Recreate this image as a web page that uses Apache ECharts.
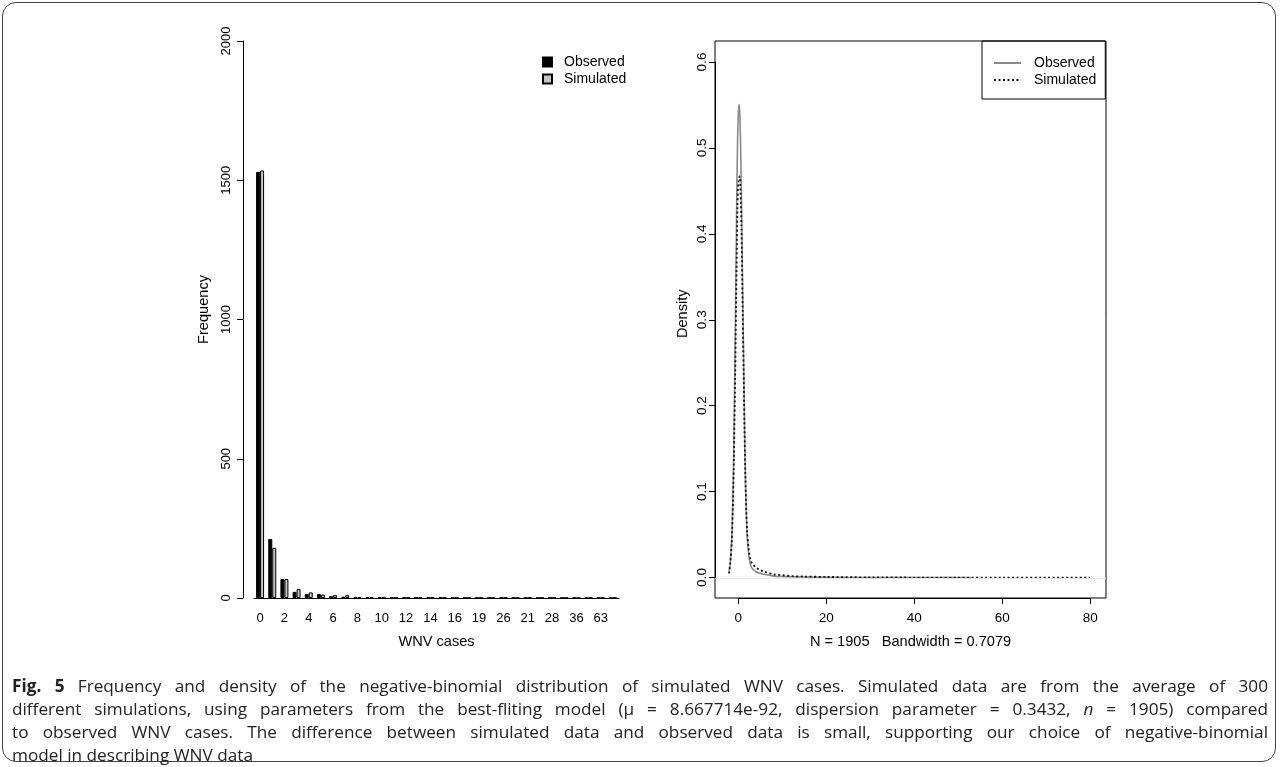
<!DOCTYPE html>
<html>
<head>
<meta charset="utf-8">
<script src="https://cdn.jsdelivr.net/npm/echarts@6/dist/echarts.min.js"></script>
<style>
  body { margin: 0; background: #fff; }
  #frame {
    position: absolute; left: 2px; top: 2px; width: 1274px; height: 760px;
    border: 1.5px solid #444; border-radius: 14px; box-sizing: border-box;
  }
  #chart { position: absolute; left: 0; top: 0; width: 1281px; height: 767px; }
  #caption {
    position: absolute; left: 12px; top: 674px; width: 1256px;
    font-family: "Open Sans", "Noto Sans", sans-serif; font-size: 17.2px; color: #222;
    line-height: 23px;
  }
  #caption .j { text-align: justify; text-align-last: justify; }
  #caption b { font-weight: 700; }
</style>
</head>
<body>
<div id="chart"></div>
<div id="frame"></div>
<div id="caption">
  <div class="j"><b>Fig. 5</b> Frequency and density of the negative-binomial distribution of simulated WNV cases. Simulated data are from the average of 300</div>
  <div class="j">different simulations, using parameters from the best-fliting model (μ = 8.667714e-92, dispersion parameter = 0.3432, <i>n</i> = 1905) compared</div>
  <div class="j">to observed WNV cases. The difference between simulated data and observed data is small, supporting our choice of negative-binomial</div>
  <div>model in describing WNV data</div>
</div>
<script>
  // bar chart: frequency of WNV cases
  var caseCategories = ['0', '1', '2', '3', '4', '5', '6', '7', '8', '9', '10', '11', '12', '13', '14', '15', '16',
    '17', '19', '20', '26', '18', '21', '24', '28', '30', '36', '38', '63', '47']
  var observedFreq = [1530, 212, 68, 22, 14, 14, 7, 5, 4, 3, 3, 2, 3, 2, 2, 2, 2, 1, 1, 1, 3, 1, 1, 1, 1, 1, 1, 1, 1, 0]
  var simulatedFreq = [1535, 180, 68, 32, 20, 12, 10, 10, 3, 3, 4, 2, 2, 2, 2, 1, 1, 1, 1, 1, 1, 1, 1, 1, 1, 1, 0, 1, 1, 1]
  var freqTicks = [0, 500, 1000, 1500, 2000]

  // density curves (x, y)
  var obsDensityX = [-2.1, -1.8, -1.5, -1.2, -1.0, -0.7, -0.4, -0.2, 0.0, 0.2, 0.4, 0.6, 0.8, 1.0, 1.3, 1.6, 2.0, 2.5, 3.0, 4.0, 5.0, 6.0, 7.0, 8.0, 10, 12, 15, 20, 25, 30, 40, 50, 53]
  var obsDensityY = [0.006, 0.02, 0.045, 0.10, 0.16, 0.28, 0.42, 0.50, 0.54, 0.551, 0.53, 0.48, 0.41, 0.33, 0.22, 0.12, 0.05, 0.022, 0.012, 0.007, 0.005, 0.004, 0.003, 0.002, 0.0015, 0.0012, 0.001, 0.0006, 0.0004, 0.0003, 0.0002, 0.0002, 0.0001]
  var simDensityX = [-2.1, -1.8, -1.5, -1.2, -1.0, -0.7, -0.4, -0.2, 0.0, 0.3, 0.5, 0.7, 1.0, 1.3, 1.6, 2.0, 2.5, 3.0, 4.0, 5.0, 6.0, 8.0, 10, 12, 15, 20, 30, 40, 50, 60, 70, 80]
  var simDensityY = [0.005, 0.018, 0.04, 0.09, 0.14, 0.24, 0.36, 0.43, 0.46, 0.467, 0.45, 0.41, 0.31, 0.21, 0.12, 0.055, 0.028, 0.018, 0.012, 0.009, 0.007, 0.004, 0.003, 0.002, 0.0015, 0.001, 0.0005, 0.0003, 0.0002, 0.0001, 0.0001, 0.0001]
  var densityXTicks = [0, 20, 40, 60, 80]
  var densityYTicks = [0, 0.1, 0.2, 0.3, 0.4, 0.5, 0.6]

  function zip(xs, ys) {
    return xs.map(function (x, i) { return [x, ys[i]] })
  }

  var font = '"Liberation Sans", Arial, sans-serif'
  var black = '#000'
  var hidden = {
    axisLine: { show: false }, axisTick: { show: false }, axisLabel: { show: false }, splitLine: { show: false }
  }

  var chart = echarts.init(document.getElementById('chart'))

  chart.setOption({
    animation: false,
    textStyle: { fontFamily: font, color: black },
    grid: [
      { left: 254, width: 365, top: 41, bottom: 169 },
      { left: 715, right: 175, top: 41, bottom: 169, show: true, borderColor: black, borderWidth: 1, backgroundColor: 'transparent' },
      // y ticks of density plot (0 .. 0.6)
      { left: 715, right: 175, top: 62, bottom: 189.5 },
      // x ticks of density plot (0 .. 80)
      { left: 738.3, right: 190.8, top: 41, bottom: 169 }
    ],
    legend: [
      {
        data: ['Observed', 'Simulated'],
        orient: 'vertical', left: 542, top: 55, padding: 0,
        icon: 'rect', itemWidth: 9, itemHeight: 9, itemGap: 3,
        textStyle: { fontFamily: font, fontSize: 14, color: black, padding: [0, 0, 0, 7], lineHeight: 13 }
      },
      {
        data: ['Observed density', 'Simulated density'],
        formatter: function (n) { return n.split(' ')[0] },
        orient: 'vertical', left: 982, top: 41, padding: [15, 9, 12, 11],
        borderColor: black, borderWidth: 1,
        itemWidth: 27, itemHeight: 12, itemGap: 3,
        itemStyle: { opacity: 0 },
        textStyle: { fontFamily: font, fontSize: 14, color: black, padding: [0, 0, 0, 8], lineHeight: 13 }
      }
    ],
    xAxis: [
      {
        type: 'category', gridIndex: 0, data: caseCategories,
        axisLine: { lineStyle: { color: black, width: 1 } },
        axisTick: { alignWithLabel: true, interval: 0, length: 4, lineStyle: { color: black } },
        axisLabel: { interval: 1, margin: 14, fontSize: 13, color: black, fontFamily: font },
        name: 'WNV cases', nameLocation: 'middle', nameGap: 36,
        nameTextStyle: { fontSize: 14.6, color: black, fontFamily: font }
      },
      Object.assign({
        type: 'value', gridIndex: 1, min: -5.3, max: 83.6,
        name: 'N = 1905   Bandwidth = 0.7079', nameLocation: 'middle', nameGap: 36,
        nameTextStyle: { fontSize: 14.6, color: black, fontFamily: font }
      }, hidden),
      Object.assign({ type: 'value', gridIndex: 2, min: 0, max: 80 }, hidden),
      {
        type: 'value', gridIndex: 3, min: densityXTicks[0], max: densityXTicks[densityXTicks.length - 1], interval: 20,
        axisLine: { show: true, lineStyle: { color: black, width: 1 } }, splitLine: { show: false },
        axisTick: { show: true, length: 6, lineStyle: { color: black } },
        axisLabel: { margin: 13, fontSize: 13.5, color: black, fontFamily: font }
      }
    ],
    yAxis: [
      {
        type: 'value', gridIndex: 0, min: freqTicks[0], max: freqTicks[freqTicks.length - 1], interval: 500,
        offset: 11,
        axisLine: { show: true, lineStyle: { color: black, width: 1 } },
        axisTick: { show: true, length: 6, lineStyle: { color: black } },
        axisLabel: { rotate: 90, margin: 10, fontSize: 13, color: black, fontFamily: font,
          formatter: function (v) { return String(v) } },
        splitLine: { show: false },
        name: 'Frequency', nameLocation: 'middle', nameRotate: 90, nameGap: 32,
        nameTextStyle: { fontSize: 14.6, color: black, fontFamily: font, padding: [0, 0, 0, 20] }
      },
      Object.assign({ type: 'value', gridIndex: 1, min: -0.0235, max: 0.6245 }, hidden),
      {
        type: 'value', gridIndex: 2, min: densityYTicks[0], max: densityYTicks[densityYTicks.length - 1], interval: 0.1,
        axisLine: { show: true, lineStyle: { color: black, width: 1 } }, splitLine: { show: false },
        axisTick: { show: true, length: 6, lineStyle: { color: black } },
        axisLabel: { rotate: 90, margin: 6, fontSize: 13.5, color: black, fontFamily: font,
          formatter: function (v) { return v.toFixed(1) } },
        name: 'Density', nameLocation: 'middle', nameRotate: 90, nameGap: 25,
        nameTextStyle: { fontSize: 14.6, color: black, fontFamily: font, padding: [0, 0, 0, 12] }
      },
      Object.assign({ type: 'value', gridIndex: 3, min: 0, max: 1 }, hidden)
    ],
    series: [
      {
        name: 'Observed', type: 'bar', xAxisIndex: 0, yAxisIndex: 0,
        data: observedFreq, barWidth: 4, barGap: '0%',
        itemStyle: { color: '#000', borderColor: black, borderWidth: 1 }
      },
      {
        name: 'Simulated', type: 'bar', xAxisIndex: 0, yAxisIndex: 0,
        data: simulatedFreq, barWidth: 4, barGap: '0%',
        itemStyle: { color: '#c4c4c4', borderColor: black, borderWidth: 1 }
      },
      {
        name: 'Observed density', type: 'line', xAxisIndex: 1, yAxisIndex: 1,
        data: zip(obsDensityX, obsDensityY), symbol: 'none', smooth: 0.3,
        lineStyle: { color: '#8a8a8a', width: 1.6 },
        itemStyle: { color: '#8a8a8a' },
        markLine: {
          silent: true, symbol: 'none', label: { show: false },
          lineStyle: { color: '#e4e4e4', width: 1, type: 'solid' },
          data: [{ yAxis: 0 }]
        },
        z: 3
      },
      {
        name: 'Simulated density', type: 'line', xAxisIndex: 1, yAxisIndex: 1,
        data: zip(simDensityX, simDensityY), symbol: 'none', smooth: 0.3,
        lineStyle: { color: '#111', width: 1.8, type: [2, 2.5] },
        itemStyle: { color: '#111' },
        z: 4
      }
    ]
  })
</script>
</body>
</html>
